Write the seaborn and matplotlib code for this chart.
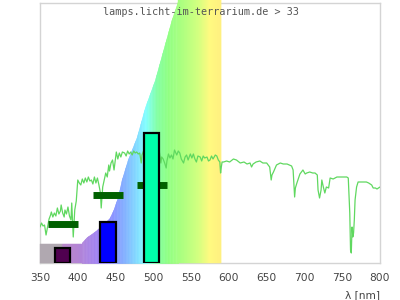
import numpy as np
import matplotlib
matplotlib.use("Agg")
import matplotlib.pyplot as plt
import matplotlib.colors as mcolors
import seaborn as sns
import pandas as pd

# ---------------- data ----------------
x_ticks = [350, 400, 450, 500, 550, 600, 650, 700, 750, 800]
title_text = "lamps.licht-im-terrarium.de > 33"
x_label = "λ [nm]"

# rainbow-filled sensitivity curve (relative height)
fill_nm = [350, 405, 406, 412, 418, 425, 432, 438, 442, 447, 453, 458, 466,
           478, 489, 502, 513, 524, 533, 590]
fill_val = [19, 19, 21, 26, 29, 33, 38, 42, 45, 53, 66, 83, 103,
            126, 156, 183, 213, 243, 263, 263]

# lamp spectrum bars
bar_nm = [380, 440, 498]
bar_val = [15.3, 41.3, 130.3]
bar_colors = ["#500050", "#0000ff", "#00ffaa"]

# dark-green range markers
rng_lo = [360, 420, 478]
rng_hi = [400, 460, 518]
rng_val = [38.7, 67.7, 77.7]

# green reference spectrum
line_nm = [350, 352, 354, 356, 358, 360, 362, 364, 365, 367,
           369, 371, 373, 375, 377, 378, 380, 382, 383, 385,
           387, 389, 391, 392, 394, 396, 398, 399, 400, 402,
           404, 406, 408, 410, 412, 414, 416, 418, 420, 422,
           424, 426, 428, 430, 431, 433, 435, 437, 439, 441,
           442, 444, 446, 448, 449, 451, 453, 455, 457, 459,
           462, 464, 466, 468, 470, 472, 474, 476, 478, 480,
           482, 484, 485, 487, 490, 495, 500, 505, 508, 510,
           511, 513, 515, 517, 518, 520, 522, 524, 526, 528,
           531, 533, 535, 537, 540, 542, 544, 546, 549, 551,
           553, 555, 557, 559, 562, 564, 566, 568, 571, 573,
           575, 577, 579, 582, 584, 586, 588, 589, 590, 591,
           593, 597, 601, 606, 610, 615, 620, 624, 628, 630,
           632, 636, 641, 645, 650, 654, 656, 657, 659, 663,
           668, 672, 677, 683, 685, 687, 688, 690, 694, 698,
           701, 703, 707, 711, 714, 717, 718, 720, 722, 723,
           725, 727, 729, 732, 734, 738, 743, 748, 752, 756,
           758, 760, 761, 762, 763, 764, 765, 766, 767, 769,
           771, 775, 778, 782, 785, 789, 791, 794, 796, 800]
line_val = [36, 40, 37, 38, 28, 36, 44, 48, 51, 46,
            50, 47, 55, 49, 52, 58, 50, 46, 53, 49,
            56, 47, 43, 60, 26, 53, 62, 72, 83, 80,
            78, 84, 80, 85, 81, 86, 82, 83, 79, 86,
            80, 85, 78, 70, 55, 76, 83, 90, 86, 98,
            92, 100, 103, 93, 99, 111, 104, 110, 106, 111,
            110, 107, 112, 109, 111, 108, 112, 110, 111, 109,
            110, 100, 108, 112, 111, 110, 112, 110, 111, 100,
            106, 104, 100, 95, 102, 109, 105, 108, 104, 113,
            108, 112, 110, 104, 100, 106, 108, 103, 109, 105,
            109, 104, 101, 107, 106, 102, 107, 105, 106, 102,
            103, 107, 104, 108, 107, 103, 101, 90, 96, 101,
            101, 102, 101, 104, 103, 100, 101, 99, 100, 96,
            99, 101, 102, 100, 100, 96, 83, 88, 91, 98,
            100, 99, 99, 97, 93, 66, 75, 80, 89, 93,
            89, 90, 91, 90, 90, 88, 73, 65, 73, 83,
            76, 70, 76, 75, 85, 84, 86, 86, 86, 86,
            85, 50, 13, 10, 36, 26, 30, 43, 63, 76,
            81, 81, 81, 81, 80, 78, 75, 75, 74, 76]

# ---------------- style ----------------
sns.set_theme(style="white")
plt.rcParams["font.family"] = ["DejaVu Sans"]

fig = plt.figure(figsize=(4, 3), dpi=100)
ax = fig.add_axes([40 / 400, 37 / 300, 340 / 400, 260 / 300])
ax.set_xlim(350, 800)
ax.set_ylim(0, 260)

# rainbow fill
stops = [(350, "#b0a8b0"), (379, "#b0a8b0"), (380, "#b888c8"), (400, "#b484d4"),
         (430, "#9c80f8"), (446, "#8890ff"), (462, "#80b0ff"), (478, "#80dcff"),
         (490, "#80ffff"), (505, "#80ffa0"), (520, "#90ff80"), (540, "#b0ff80"),
         (560, "#d4ff80"), (575, "#fffa80"), (590, "#fff080")]
stop_x = np.array([s[0] for s in stops], float)
stop_rgb = np.array([mcolors.to_rgb(s[1]) for s in stops])
grid = np.arange(350, 591, 1.0)
gvals = np.interp(grid, fill_nm, fill_val)
for i in range(len(grid) - 1):
    mid = 0.5 * (grid[i] + grid[i + 1])
    col = [np.interp(mid, stop_x, stop_rgb[:, k]) for k in range(3)]
    ax.fill_between(grid[i:i + 2], 0, gvals[i:i + 2], color=col, lw=0.3,
                    edgecolor=col, zorder=1, clip_on=False)

# green line
df = pd.DataFrame({"nm": line_nm, "val": line_val})
sns.lineplot(data=df, x="nm", y="val", ax=ax, color="#60d860", lw=0.9,
             zorder=3, estimator=None, sort=False)

# range markers
ax.hlines(rng_val, rng_lo, rng_hi, colors="#006000", lw=5.0, zorder=4,
          capstyle="butt")

# bars
ax.bar(bar_nm, bar_val, width=20, color=bar_colors, edgecolor="black",
       linewidth=1.6, zorder=5)

# axes styling
for s in ax.spines.values():
    s.set_color("#d4d4d4")
    s.set_linewidth(1.0)
    s.set_zorder(0.5)
ax.set_xticks(x_ticks)
ax.set_yticks([])
ax.tick_params(axis="x", length=0, pad=7, labelsize=7.7, labelcolor="#444444")
ax.set_xlabel("")
ax.set_ylabel("")

fig.text(380 / 400, (300 - 295) / 300, x_label, ha="right", va="center",
         fontsize=7.7, color="#444444")
fig.text(201 / 400, (300 - 12) / 300, title_text, ha="center", va="center",
         fontsize=7.3, color="#555555", family="DejaVu Sans Mono", zorder=10)

fig.savefig("out.png", dpi=100, facecolor="white")
